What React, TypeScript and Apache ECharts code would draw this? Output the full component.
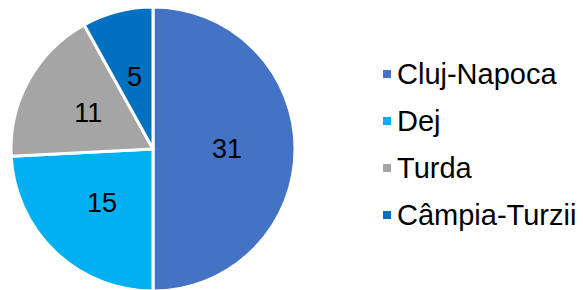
import React, { useEffect, useRef } from "react";
import * as echarts from "echarts";

const categories = ["Cluj-Napoca", "Dej", "Turda", "Câmpia-Turzii"];
const values = [31, 15, 11, 5];
const colors = ["#4472C4", "#00B0F0", "#A5A5A5", "#0070C0"];

export default function App() {
  const ref = useRef<HTMLDivElement>(null);
  useEffect(() => {
    if (!ref.current) return;
    const chart = echarts.init(ref.current, null, { renderer: "svg" });
    const font = "'Liberation Sans', Arial, sans-serif";
    chart.setOption({
      animation: false,
      backgroundColor: "#ffffff",
      color: colors,
      legend: {
        orient: "vertical",
        left: 381,
        top: 59,
        padding: 0,
        icon: "rect",
        itemWidth: 10,
        itemHeight: 10,
        itemGap: 17,
        data: categories,
        textStyle: { fontFamily: font, fontSize: 29, lineHeight: 30, color: "#000" },
      },
      series: [
        {
          type: "pie",
          center: [153, 149],
          radius: 142,
          startAngle: 90,
          clockwise: true,
          itemStyle: { borderColor: "#ffffff", borderWidth: 3 },
          label: {
            show: true,
            position: "inside",
            formatter: "{c}",
            fontFamily: font,
            fontSize: 27,
            color: "#000",
          },
          labelLine: { show: false },
          emphasis: { disabled: true },
          data: categories.map((name, i) => ({ name, value: values[i] })),
        },
      ],
    });
    return () => chart.dispose();
  }, []);
  return (
    <div
      ref={ref}
      style={{ position: "fixed", left: 0, top: 0, width: 583, height: 290 }}
    />
  );
}
